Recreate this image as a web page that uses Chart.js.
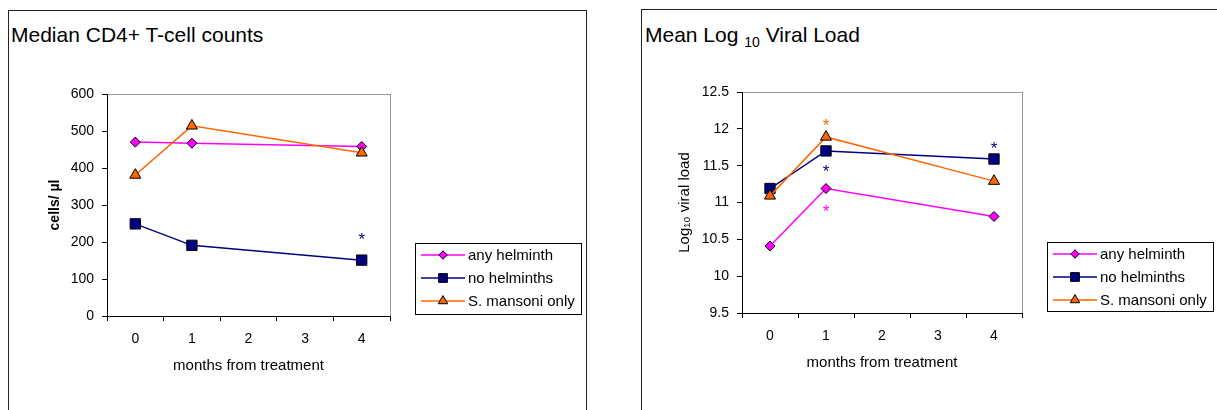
<!DOCTYPE html>
<html><head><meta charset="utf-8">
<script src="https://cdn.jsdelivr.net/npm/chart.js@4/dist/chart.umd.min.js"></script>
<style>
html,body{margin:0;padding:0;background:#fff;width:1217px;height:410px;overflow:hidden;font-family:"Liberation Sans",Arial,sans-serif;}
.panel{position:absolute;box-sizing:border-box;border:1.5px solid #222;}
.title{position:absolute;font-size:21px;line-height:21px;color:#000;white-space:nowrap;}
.holder{position:absolute;top:0;width:600px;height:410px;}
canvas{display:block;}
</style></head><body>
<div class="panel" style="left:8px;top:10px;width:579px;height:430px"></div>
<div class="panel" style="left:641px;top:9px;width:640px;height:430px"></div>
<div class="title" style="left:11px;top:24px">Median CD4+ T-cell counts</div>
<div class="title" style="left:645px;top:24px">Mean Log <span style="font-size:14px;position:relative;top:5px">10</span> Viral Load</div>
<div class="holder" style="left:0"><canvas id="c1" width="600" height="410"></canvas></div>
<div class="holder" style="left:617px"><canvas id="c2" width="600" height="410"></canvas></div>
<script>
// ---------- data ----------
const months = ['0', '1', '2', '3', '4'];
const seriesNames = ['any helminth', 'no helminths', 'S. mansoni only'];

// Median CD4+ T-cell counts (cells/µl)
const cd4AnyHelminth = [470, 467, null, null, 458];
const cd4NoHelminths = [249, 191, null, null, 151];
const cd4SMansoni    = [381, 514, null, null, 441];
const cd4Ticks = [0, 100, 200, 300, 400, 500, 600];
// significance markers: [month label, value, series index]
const cd4Stars = [['4', 216, 1]];

// Mean log10 viral load
const vlAnyHelminth = [10.41, 11.19, null, null, 10.81];
const vlNoHelminths = [11.19, 11.70, null, null, 11.59];
const vlSMansoni    = [11.09, 11.89, null, null, 11.29];
const vlTicks = [9.5, 10, 10.5, 11, 11.5, 12, 12.5];
const vlStars = [['1', 12.09, 2], ['1', 11.47, 1], ['1', 10.93, 0], ['4', 11.78, 1]];

// ---------- styling ----------
const FONT = '"Liberation Sans", Arial, sans-serif';
const styles = [
  {color: '#FF00FF', pointStyle: 'rectRot', radius: 5},
  {color: '#000080', pointStyle: 'rect', radius: 7.3},
  {color: '#FF6600', pointStyle: 'triangle', radius: 6.4}
];

function makeDatasets(arrs) {
  return arrs.map((d, i) => ({
    label: seriesNames[i],
    data: d,
    borderColor: styles[i].color,
    backgroundColor: styles[i].color,
    pointBackgroundColor: styles[i].color,
    pointBorderColor: '#000',
    pointBorderWidth: 1,
    pointStyle: styles[i].pointStyle,
    pointRadius: styles[i].radius,
    pointHoverRadius: styles[i].radius,
    borderWidth: 1.5,
    spanGaps: true,
    tension: 0,
    order: 2 - i
  }));
}

const frame = {
  id: 'frame',
  beforeDraw(chart) {
    const a = chart.chartArea, ctx = chart.ctx;
    ctx.save();
    ctx.strokeStyle = '#999';
    ctx.lineWidth = 1;
    ctx.strokeRect(Math.round(a.left) + 0.5, Math.round(a.top) + 0.5,
                   Math.round(a.right - a.left), Math.round(a.bottom - a.top));
    ctx.restore();
  }
};

const stars = {
  id: 'stars',
  afterDatasetsDraw(chart, args, opts) {
    const ctx = chart.ctx, xs = chart.scales.x, ys = chart.scales.y;
    ctx.save();
    ctx.font = opts.size + 'px ' + FONT;
    ctx.textAlign = 'center';
    ctx.textBaseline = 'alphabetic';
    const m = ctx.measureText('*');
    const shift = (m.actualBoundingBoxAscent - m.actualBoundingBoxDescent) / 2;
    opts.items.forEach(([cat, val, s]) => {
      ctx.fillStyle = chart.data.datasets[s].borderColor;
      ctx.fillText('*', xs.getPixelForValue(months.indexOf(cat)), ys.getPixelForValue(val) + shift);
    });
    ctx.restore();
  }
};

const boxLegend = {
  id: 'boxLegend',
  afterDraw(chart, args, o) {
    const ctx = chart.ctx;
    ctx.save();
    ctx.fillStyle = '#fff';
    ctx.fillRect(o.x, o.y, o.w, o.h);
    ctx.strokeStyle = '#000';
    ctx.lineWidth = 1;
    ctx.strokeRect(o.x + 0.5, o.y + 0.5, o.w, o.h);
    chart.data.datasets.forEach((ds, i) => {
      const y = o.y + o.first + i * o.gap;
      ctx.strokeStyle = ds.borderColor;
      ctx.lineWidth = ds.borderWidth;
      ctx.beginPath();
      ctx.moveTo(o.x + 6, y); ctx.lineTo(o.x + 50, y);
      ctx.stroke();
      ctx.fillStyle = ds.pointBackgroundColor;
      ctx.strokeStyle = '#000';
      ctx.lineWidth = 1;
      Chart.helpers.drawPoint(ctx, {pointStyle: ds.pointStyle, radius: ds.pointRadius * 0.85, rotation: 0, borderWidth: 1}, o.x + 28, y);
      ctx.fillStyle = '#000';
      ctx.font = o.size + 'px ' + FONT;
      ctx.textAlign = 'left';
      ctx.textBaseline = 'middle';
      ctx.fillText(ds.label, o.x + 53, y + 1);
    });
    ctx.restore();
  }
};

function makeChart(id, cfg) {
  return new Chart(document.getElementById(id), {
    type: 'line',
    data: {labels: months, datasets: makeDatasets(cfg.series)},
    plugins: [frame, stars, boxLegend],
    options: {
      responsive: false,
      animation: false,
      events: [],
      layout: {padding: cfg.padding},
      plugins: {
        legend: {display: false},
        tooltip: {enabled: false},
        title: {display: false},
        stars: {items: cfg.stars, size: 17},
        boxLegend: Object.assign({first: 12, gap: 23, size: 15}, cfg.legend)
      },
      scales: {
        x: {
          type: 'category',
          offset: true,
          grid: {offset: true, drawOnChartArea: false, drawTicks: true, tickLength: 5, color: '#000'},
          border: {display: true, color: '#000', width: 1},
          ticks: {color: '#000', font: {family: FONT, size: 14}, padding: 10, maxRotation: 0, autoSkip: false},
          title: {display: true, text: 'months from treatment', color: '#000',
                  font: {family: FONT, size: 15}, padding: {top: 0, bottom: cfg.xTitlePad}},
          afterFit(s) { s.height = 60; }
        },
        y: {
          type: 'linear',
          min: cfg.ticks[0],
          max: cfg.ticks[cfg.ticks.length - 1],
          afterBuildTicks(s) { s.ticks = cfg.ticks.map(v => ({value: v})); },
          grid: {drawOnChartArea: false, drawTicks: true, tickLength: 5, color: '#000'},
          border: {display: true, color: '#000', width: 1},
          ticks: {color: '#000', font: {family: FONT, size: 14}, padding: 8, callback: v => String(v)},
          title: {display: true, text: cfg.yTitle, color: '#000',
                  font: {family: FONT, size: cfg.yTitleSize, weight: cfg.yTitleWeight}, padding: 0},
          afterFit(s) { s.width = cfg.yWidth; }
        }
      }
    }
  });
}

makeChart('c1', {
  series: [cd4AnyHelminth, cd4NoHelminths, cd4SMansoni],
  ticks: cd4Ticks,
  stars: cd4Stars,
  yTitle: 'cells/ µl', yTitleSize: 14, yTitleWeight: 'bold',
  yWidth: 60,
  padding: {left: 47, top: 94, right: 210, bottom: 34},
  xTitlePad: 1,
  legend: {x: 415, y: 243, w: 166, h: 71}
});

makeChart('c2', {
  series: [vlAnyHelminth, vlNoHelminths, vlSMansoni],
  ticks: vlTicks,
  stars: vlStars,
  yTitle: 'Log\u2081\u2080 viral load', yTitleSize: 15, yTitleWeight: 'normal',
  yWidth: 66,
  padding: {left: 59, top: 92, right: 195, bottom: 37},
  xTitlePad: 1,
  legend: {x: 430, y: 242, w: 166, h: 69}
});
</script>
</body></html>
